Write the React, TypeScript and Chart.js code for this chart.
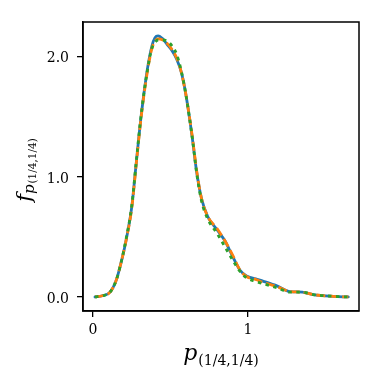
import React, { useEffect, useRef } from "react";
import { Chart, registerables } from "chart.js";

Chart.register(...registerables);

const xs = [0.013, 0.06, 0.11, 0.15, 0.18, 0.21, 0.25, 0.28, 0.31, 0.35, 0.38, 0.40, 0.42, 0.45, 0.48, 0.51, 0.54, 0.57, 0.60, 0.64, 0.67, 0.70, 0.74, 0.80, 0.85, 0.90, 0.95, 0.99, 1.05, 1.10, 1.19, 1.27, 1.35, 1.42, 1.55, 1.647];
const blueY = [0, 0.01, 0.04, 0.14, 0.28, 0.45, 0.75, 1.13, 1.50, 1.89, 2.09, 2.16, 2.175, 2.15, 2.10, 2.05, 1.98, 1.87, 1.68, 1.33, 1.03, 0.82, 0.67, 0.56, 0.47, 0.34, 0.22, 0.175, 0.15, 0.13, 0.09, 0.045, 0.04, 0.02, 0.005, 0];
const orangeY = [0, 0.01, 0.04, 0.14, 0.28, 0.45, 0.74, 1.12, 1.49, 1.87, 2.07, 2.13, 2.15, 2.14, 2.11, 2.06, 1.99, 1.87, 1.68, 1.34, 1.04, 0.82, 0.67, 0.57, 0.47, 0.35, 0.22, 0.17, 0.145, 0.12, 0.085, 0.045, 0.04, 0.02, 0.005, 0];
const greenY = [0, 0.01, 0.04, 0.14, 0.28, 0.46, 0.76, 1.14, 1.51, 1.88, 2.07, 2.12, 2.14, 2.14, 2.13, 2.09, 2.02, 1.88, 1.68, 1.33, 1.02, 0.80, 0.65, 0.53, 0.42, 0.31, 0.21, 0.16, 0.13, 0.11, 0.075, 0.04, 0.04, 0.02, 0.005, 0];

const xTicks = [0, 1];
const yTicks = [0, 1, 2];

const SERIF = "'DejaVu Serif', serif";

const framePlugin = {
  id: "frameAndLabels",
  afterDraw(chart: any) {
    const { ctx, chartArea } = chart;
    const { left, right, top, bottom } = chartArea;
    ctx.save();
    ctx.strokeStyle = "#000";
    ctx.lineWidth = 1.5;
    ctx.strokeRect(left, top, right - left, bottom - top);

    ctx.fillStyle = "#000";
    ctx.textBaseline = "alphabetic";
    // x label: p_{(1/4,1/4)}
    const mainFont = "italic 22px " + SERIF;
    const subFont = "14px " + SERIF;
    ctx.font = mainFont;
    const wP = ctx.measureText("p").width;
    ctx.font = subFont;
    const wSub = ctx.measureText("(1/4,1/4)").width;
    const total = wP + 1 + wSub;
    const cx = (left + right) / 2;
    const x0 = cx - total / 2;
    const baseX = 360;
    ctx.font = mainFont;
    ctx.fillText("p", x0, baseX);
    ctx.font = subFont;
    ctx.fillText("(1/4,1/4)", x0 + wP + 1, baseX + 5);

    // y label: f_{p_{(1/4,1/4)}}
    ctx.save();
    const cyMid = 170;
    ctx.translate(31, cyMid);
    ctx.rotate(-Math.PI / 2);
    const fFont = "italic 21px " + SERIF;
    const pFont = "italic 15px " + SERIF;
    const ssFont = "10.5px " + SERIF;
    ctx.font = fFont;
    const wf = ctx.measureText("f").width;
    ctx.font = pFont;
    const wp2 = ctx.measureText("p").width;
    ctx.font = ssFont;
    const wss = ctx.measureText("(1/4,1/4)").width;
    const tot = wf + wp2 + wss + 1;
    let xx = -tot / 2;
    ctx.font = fFont;
    ctx.fillText("f", xx, 0);
    xx += wf;
    ctx.font = pFont;
    ctx.fillText("p", xx, 3);
    xx += wp2 + 1;
    ctx.font = ssFont;
    ctx.fillText("(1/4,1/4)", xx, 5);
    ctx.restore();

    ctx.restore();
  },
};

export default function App() {
  const ref = useRef<HTMLCanvasElement | null>(null);
  useEffect(() => {
    if (!ref.current) return;
    const mk = (ys: number[]) => xs.map((x, i) => ({ x, y: ys[i] }));
    const chart = new Chart(ref.current, {
      type: "scatter",
      data: {
        datasets: [
          { data: mk(blueY), order: 3, borderColor: "#1f77b4", borderWidth: 2.8, showLine: true, pointRadius: 0, cubicInterpolationMode: "monotone" as any, borderCapStyle: "round" as any, borderJoinStyle: "round" as any },
          { data: mk(orangeY), order: 2, borderColor: "#ff7f0e", borderWidth: 2.8, borderDash: [9, 4], showLine: true, pointRadius: 0, cubicInterpolationMode: "monotone" as any },
          { data: mk(greenY), order: 1, borderColor: "#2ca02c", borderWidth: 2.8, borderDash: [3.5, 4.5], showLine: true, pointRadius: 0, cubicInterpolationMode: "monotone" as any },
        ],
      },
      options: {
        animation: false,
        responsive: false,
        events: [],
        layout: { padding: { left: 0, top: 22, right: 23, bottom: 0 } },
        plugins: { legend: { display: false }, tooltip: { enabled: false } },
        scales: {
          x: {
            type: "linear",
            min: -0.0645,
            max: 1.716,
            afterBuildTicks: (s: any) => { s.ticks = xTicks.map((v) => ({ value: v })); },
            afterFit: (s: any) => { s.height = 71; },
            ticks: { color: "#000", font: { family: SERIF, size: 14 }, padding: 5, callback: (v: any) => String(v), maxRotation: 0 },
            grid: { drawOnChartArea: false, drawTicks: true, tickLength: 6, color: "#000", lineWidth: 1.3 },
            border: { display: true, color: "#000", width: 1.5 },
          },
          y: {
            type: "linear",
            min: -0.117,
            max: 2.29,
            afterBuildTicks: (s: any) => { s.ticks = yTicks.map((v) => ({ value: v })); },
            afterFit: (s: any) => { s.width = 83; },
            ticks: { color: "#000", font: { family: SERIF, size: 14 }, padding: 8, labelOffset: 2, callback: (v: any) => Number(v).toFixed(1) },
            grid: { drawOnChartArea: false, drawTicks: true, tickLength: 6, color: "#000", lineWidth: 1.3 },
            border: { display: true, color: "#000", width: 1.5 },
          },
        },
      },
      plugins: [framePlugin],
    });
    return () => chart.destroy();
  }, []);
  return (
    <div style={{ position: "absolute", left: 0, top: 0, width: 382, height: 382, background: "#fff" }}>
      <canvas ref={ref} width={382} height={382} style={{ display: "block" }} />
    </div>
  );
}
